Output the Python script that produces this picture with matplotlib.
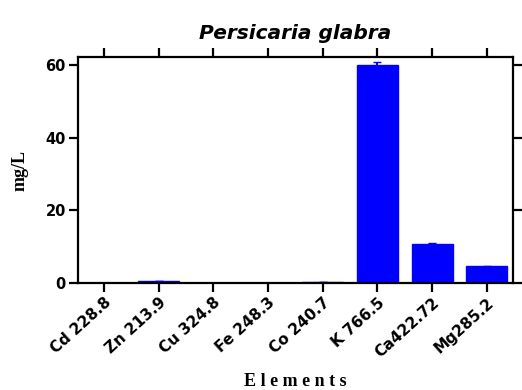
import matplotlib.pyplot as plt
import numpy as np

# Data
elements = ["Cd 228.8", "Zn 213.9", "Cu 324.8", "Fe 248.3", "Co 240.7",
            "K 766.5", "Ca422.72", "Mg285.2"]
values = [0.0, 0.6, 0.0, 0.0, 0.35, 60.0, 10.8, 4.6]
errors = [0.0, 0.05, 0.0, 0.0, 0.05, 0.7, 0.15, 0.15]

fig = plt.figure(figsize=(5.22, 3.9), dpi=100)
ax = fig.add_axes([0.149, 0.274, 0.834, 0.579])

x = np.arange(len(elements))
ax.bar(x, values, width=0.75, color="#0000ff", edgecolor="#0000ff",
       yerr=errors, ecolor="#0000ff", capsize=3, error_kw={"elinewidth": 1.5})

ax.set_xlim(-0.48, 7.48)
ax.set_ylim(0, 62.1)
ax.set_yticks([0, 20, 40, 60])
ax.set_xticks(x)
ax.set_xticklabels(elements, rotation=42, ha="right", rotation_mode="anchor",
                   fontfamily="DejaVu Sans", fontweight="bold", fontsize=11)
for lab in ax.get_yticklabels():
    lab.set_fontfamily("DejaVu Sans")
    lab.set_fontweight("bold")
    lab.set_fontsize(10.5)

for s in ax.spines.values():
    s.set_linewidth(1.6)
ax.tick_params(axis="both", direction="out", length=6.5, width=1.6, pad=2,
               top=True, right=True, labeltop=False, labelright=False)

ax.set_title("Persicaria glabra", fontfamily="DejaVu Sans", fontweight="bold",
             fontstyle="italic", fontsize=14.5, pad=13)
ax.set_ylabel("mg/L", fontfamily="Liberation Serif", fontweight="bold",
              fontsize=13, labelpad=12)
ax.set_xlabel("E l e m e n t s", fontfamily="Liberation Serif", fontweight="bold",
              fontsize=13, labelpad=9)

fig.savefig("out.png", dpi=100)
